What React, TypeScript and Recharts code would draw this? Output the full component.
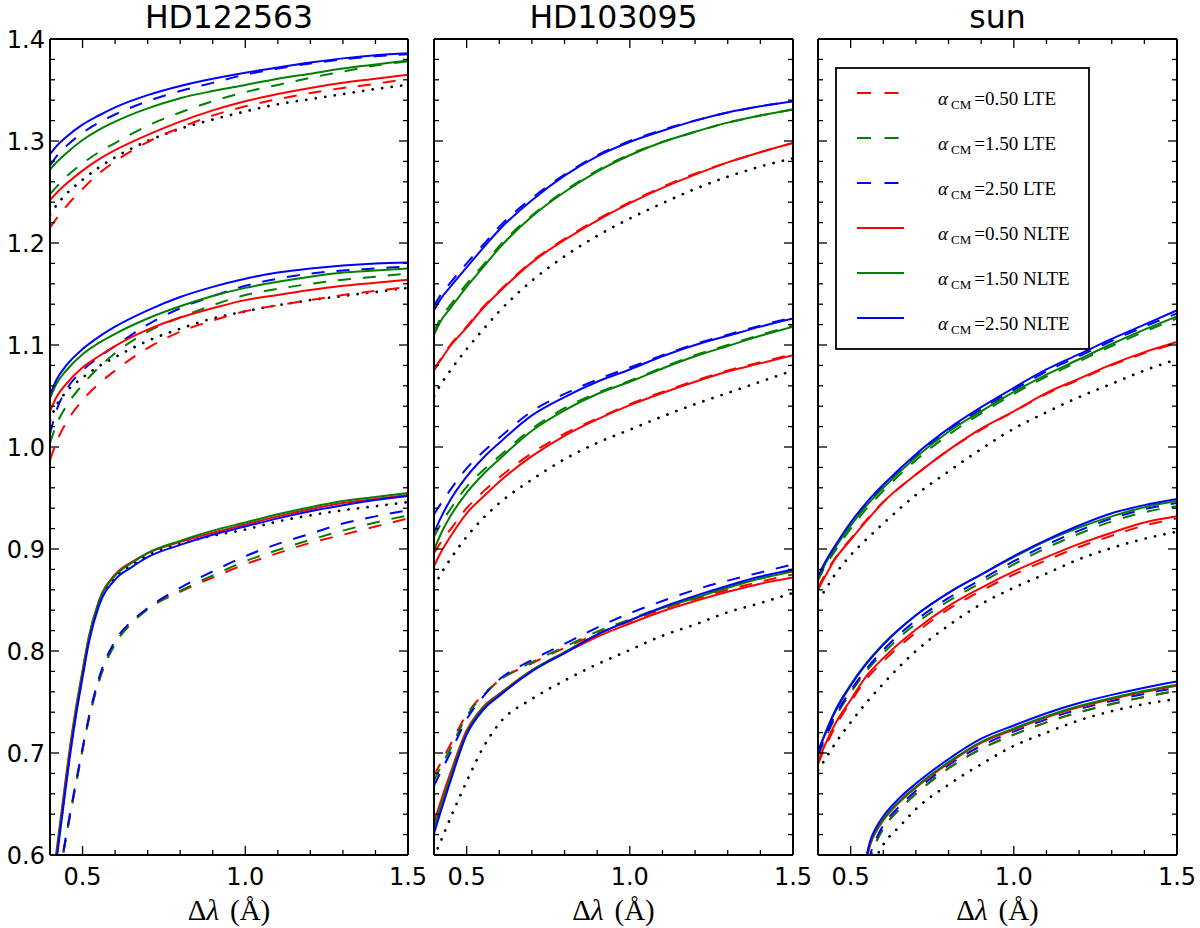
import React from 'react';
import { LineChart, Line, XAxis, YAxis } from 'recharts';

// ---------------- colours ----------------
const RED = '#ff0000';
const GREEN = '#008000';
const BLUE = '#0000ff';
const BLACK = '#000000';
const SERIES_COLORS = [RED, GREEN, BLUE]; // alpha_CM = 0.50, 1.50, 2.50

// ---------------- x grids (Delta lambda, Angstrom) ----------------
const xStd = [0.4, 0.42, 0.45, 0.5, 0.55, 0.6, 0.7, 0.8, 0.9, 1.0, 1.1, 1.2, 1.3, 1.4, 1.5];
const xHd122563Low = [0.4, 0.42, 0.44, 0.46, 0.48, 0.5, 0.52, 0.55, 0.6, 0.65, 0.7, 0.8, 0.9, 1.0, 1.1, 1.2, 1.3, 1.4, 1.5];
const xSunLow = [0.53, 0.55, 0.56, 0.58, 0.6, 0.65, 0.7, 0.8, 0.9, 1.0, 1.1, 1.2, 1.3, 1.4, 1.5];

// ---------------- HD122563 ----------------
// upper group
const hd122563UpLte050 = [1.215, 1.224, 1.236, 1.253, 1.268, 1.280, 1.299, 1.313, 1.325, 1.334, 1.341, 1.347, 1.352, 1.356, 1.361];
const hd122563UpLte150 = [1.248, 1.255, 1.265, 1.278, 1.289, 1.298, 1.315, 1.328, 1.339, 1.348, 1.355, 1.362, 1.368, 1.374, 1.378];
const hd122563UpLte250 = [1.276, 1.285, 1.295, 1.308, 1.318, 1.326, 1.339, 1.349, 1.357, 1.365, 1.371, 1.376, 1.380, 1.383, 1.385];
const hd122563UpNlte050 = [1.242, 1.249, 1.258, 1.271, 1.282, 1.291, 1.306, 1.319, 1.330, 1.339, 1.346, 1.352, 1.357, 1.361, 1.365];
const hd122563UpNlte150 = [1.272, 1.279, 1.288, 1.301, 1.311, 1.319, 1.332, 1.342, 1.349, 1.355, 1.361, 1.366, 1.371, 1.375, 1.379];
const hd122563UpNlte250 = [1.287, 1.295, 1.304, 1.316, 1.325, 1.333, 1.345, 1.354, 1.361, 1.367, 1.372, 1.377, 1.381, 1.384, 1.386];
const hd122563UpObs = [1.228, 1.237, 1.248, 1.262, 1.274, 1.284, 1.300, 1.312, 1.321, 1.329, 1.336, 1.341, 1.346, 1.351, 1.355];
// middle group
const hd122563MidLte050 = [0.987, 1.005, 1.024, 1.046, 1.062, 1.075, 1.097, 1.113, 1.124, 1.133, 1.139, 1.144, 1.149, 1.153, 1.157];
const hd122563MidLte150 = [1.004, 1.022, 1.040, 1.061, 1.078, 1.092, 1.113, 1.127, 1.139, 1.149, 1.155, 1.160, 1.164, 1.167, 1.170];
const hd122563MidLte250 = [1.013, 1.036, 1.056, 1.075, 1.088, 1.099, 1.120, 1.136, 1.148, 1.158, 1.165, 1.170, 1.173, 1.175, 1.177];
const hd122563MidNlte050 = [1.035, 1.049, 1.062, 1.078, 1.089, 1.099, 1.115, 1.127, 1.136, 1.144, 1.149, 1.154, 1.158, 1.161, 1.164];
const hd122563MidNlte150 = [1.048, 1.062, 1.075, 1.091, 1.102, 1.111, 1.126, 1.138, 1.148, 1.156, 1.162, 1.167, 1.171, 1.173, 1.175];
const hd122563MidNlte250 = [1.051, 1.066, 1.080, 1.096, 1.108, 1.118, 1.134, 1.147, 1.157, 1.165, 1.171, 1.175, 1.178, 1.180, 1.181];
const hd122563MidObs = [1.026, 1.041, 1.054, 1.068, 1.079, 1.088, 1.104, 1.116, 1.126, 1.133, 1.139, 1.144, 1.148, 1.152, 1.156];
// lower group (own x grid)
const hd122563LowLte050 = [0.530, 0.565, 0.600, 0.636, 0.670, 0.703, 0.734, 0.770, 0.807, 0.827, 0.841, 0.858, 0.872, 0.885, 0.896, 0.906, 0.914, 0.922, 0.930];
const hd122563LowLte150 = [0.530, 0.565, 0.600, 0.636, 0.670, 0.703, 0.734, 0.770, 0.807, 0.827, 0.841, 0.859, 0.874, 0.888, 0.899, 0.909, 0.918, 0.926, 0.933];
const hd122563LowLte250 = [0.532, 0.567, 0.602, 0.638, 0.672, 0.705, 0.736, 0.773, 0.810, 0.829, 0.842, 0.862, 0.878, 0.893, 0.905, 0.915, 0.925, 0.932, 0.938];
const hd122563LowNlte050 = [0.553, 0.604, 0.654, 0.703, 0.745, 0.781, 0.815, 0.849, 0.875, 0.887, 0.896, 0.907, 0.916, 0.924, 0.932, 0.939, 0.945, 0.949, 0.953];
const hd122563LowNlte150 = [0.550, 0.600, 0.650, 0.699, 0.742, 0.779, 0.814, 0.848, 0.874, 0.886, 0.896, 0.908, 0.918, 0.926, 0.934, 0.941, 0.947, 0.951, 0.955];
const hd122563LowNlte250 = [0.545, 0.595, 0.645, 0.694, 0.737, 0.774, 0.809, 0.844, 0.870, 0.882, 0.892, 0.904, 0.914, 0.922, 0.930, 0.937, 0.943, 0.948, 0.952];
const hd122563LowObs = [0.548, 0.598, 0.648, 0.697, 0.740, 0.777, 0.812, 0.846, 0.872, 0.884, 0.894, 0.905, 0.913, 0.919, 0.927, 0.933, 0.938, 0.942, 0.946];

// ---------------- HD103095 ----------------
const hd103095UpLte050 = [1.076, 1.086, 1.100, 1.118, 1.137, 1.153, 1.182, 1.204, 1.223, 1.240, 1.255, 1.268, 1.279, 1.289, 1.298];
const hd103095UpLte150 = [1.113, 1.126, 1.139, 1.160, 1.178, 1.197, 1.227, 1.251, 1.271, 1.287, 1.299, 1.309, 1.318, 1.325, 1.331];
const hd103095UpLte250 = [1.138, 1.149, 1.161, 1.180, 1.198, 1.216, 1.244, 1.267, 1.286, 1.300, 1.311, 1.320, 1.328, 1.334, 1.339];
const hd103095UpNlte050 = [1.075, 1.085, 1.099, 1.117, 1.136, 1.152, 1.181, 1.203, 1.222, 1.239, 1.254, 1.267, 1.279, 1.289, 1.298];
const hd103095UpNlte150 = [1.110, 1.123, 1.136, 1.157, 1.176, 1.195, 1.226, 1.250, 1.270, 1.286, 1.299, 1.309, 1.318, 1.325, 1.331];
const hd103095UpNlte250 = [1.134, 1.145, 1.157, 1.176, 1.195, 1.213, 1.242, 1.266, 1.285, 1.299, 1.310, 1.320, 1.328, 1.334, 1.339];
const hd103095UpObs = [1.050, 1.061, 1.075, 1.096, 1.115, 1.133, 1.163, 1.187, 1.207, 1.224, 1.239, 1.253, 1.265, 1.275, 1.283];

const hd103095MidLte050 = [0.896, 0.906, 0.919, 0.940, 0.956, 0.970, 0.994, 1.013, 1.028, 1.042, 1.054, 1.065, 1.075, 1.083, 1.091];
const hd103095MidLte150 = [0.912, 0.924, 0.939, 0.961, 0.977, 0.991, 1.018, 1.038, 1.053, 1.065, 1.078, 1.090, 1.100, 1.110, 1.119];
const hd103095MidLte250 = [0.934, 0.944, 0.958, 0.979, 0.995, 1.009, 1.035, 1.052, 1.066, 1.078, 1.090, 1.101, 1.110, 1.119, 1.127];
const hd103095MidNlte050 = [0.883, 0.896, 0.912, 0.935, 0.951, 0.966, 0.991, 1.011, 1.027, 1.041, 1.053, 1.064, 1.074, 1.082, 1.090];
const hd103095MidNlte150 = [0.899, 0.914, 0.932, 0.955, 0.973, 0.988, 1.016, 1.036, 1.052, 1.064, 1.077, 1.089, 1.099, 1.109, 1.118];
const hd103095MidNlte250 = [0.916, 0.930, 0.948, 0.971, 0.989, 1.004, 1.031, 1.049, 1.064, 1.076, 1.089, 1.100, 1.109, 1.118, 1.126];
const hd103095MidObs = [0.863, 0.875, 0.890, 0.912, 0.930, 0.945, 0.968, 0.988, 1.004, 1.017, 1.030, 1.042, 1.053, 1.064, 1.075];

const hd103095LowLte050 = [0.678, 0.690, 0.708, 0.738, 0.757, 0.771, 0.788, 0.803, 0.817, 0.829, 0.841, 0.851, 0.860, 0.868, 0.875];
const hd103095LowLte150 = [0.673, 0.686, 0.704, 0.736, 0.756, 0.771, 0.789, 0.804, 0.819, 0.831, 0.843, 0.853, 0.863, 0.871, 0.879];
const hd103095LowLte250 = [0.668, 0.681, 0.700, 0.733, 0.755, 0.772, 0.791, 0.807, 0.823, 0.837, 0.849, 0.860, 0.869, 0.877, 0.885];
const hd103095LowNlte050 = [0.632, 0.652, 0.680, 0.722, 0.745, 0.758, 0.781, 0.798, 0.814, 0.827, 0.839, 0.849, 0.858, 0.866, 0.872];
const hd103095LowNlte150 = [0.627, 0.647, 0.676, 0.720, 0.744, 0.757, 0.781, 0.799, 0.816, 0.830, 0.842, 0.852, 0.862, 0.871, 0.878];
const hd103095LowNlte250 = [0.621, 0.642, 0.672, 0.718, 0.742, 0.756, 0.780, 0.798, 0.816, 0.830, 0.843, 0.854, 0.864, 0.873, 0.880];
const hd103095LowObs = [0.598, 0.613, 0.636, 0.672, 0.705, 0.729, 0.753, 0.771, 0.787, 0.801, 0.815, 0.826, 0.838, 0.847, 0.857];

// ---------------- sun ----------------
const sunUpLte050 = [0.862, 0.874, 0.890, 0.910, 0.929, 0.946, 0.973, 0.997, 1.017, 1.035, 1.052, 1.066, 1.080, 1.092, 1.102];
const sunUpLte150 = [0.869, 0.882, 0.897, 0.920, 0.940, 0.957, 0.987, 1.012, 1.033, 1.052, 1.069, 1.084, 1.099, 1.113, 1.126];
const sunUpLte250 = [0.871, 0.884, 0.900, 0.924, 0.944, 0.961, 0.991, 1.016, 1.037, 1.056, 1.074, 1.089, 1.104, 1.118, 1.131];
const sunUpNlte050 = [0.860, 0.872, 0.889, 0.909, 0.928, 0.946, 0.973, 0.997, 1.018, 1.035, 1.053, 1.067, 1.081, 1.093, 1.103];
const sunUpNlte150 = [0.871, 0.884, 0.900, 0.923, 0.943, 0.960, 0.990, 1.015, 1.035, 1.054, 1.071, 1.086, 1.101, 1.115, 1.128];
const sunUpNlte250 = [0.873, 0.886, 0.902, 0.926, 0.946, 0.963, 0.993, 1.018, 1.039, 1.058, 1.076, 1.091, 1.106, 1.120, 1.134];
const sunUpObs = [0.850, 0.859, 0.874, 0.894, 0.910, 0.925, 0.953, 0.976, 0.998, 1.018, 1.034, 1.049, 1.062, 1.075, 1.086];

const sunMidLte050 = [0.689, 0.704, 0.724, 0.750, 0.773, 0.790, 0.818, 0.841, 0.859, 0.875, 0.889, 0.902, 0.913, 0.923, 0.930];
const sunMidLte150 = [0.697, 0.712, 0.733, 0.759, 0.781, 0.798, 0.827, 0.849, 0.867, 0.885, 0.901, 0.915, 0.927, 0.936, 0.942];
const sunMidLte250 = [0.699, 0.714, 0.735, 0.761, 0.783, 0.801, 0.830, 0.852, 0.870, 0.888, 0.904, 0.918, 0.930, 0.939, 0.945];
const sunMidNlte050 = [0.691, 0.707, 0.727, 0.752, 0.776, 0.793, 0.821, 0.844, 0.862, 0.878, 0.892, 0.905, 0.916, 0.926, 0.932];
const sunMidNlte150 = [0.702, 0.718, 0.740, 0.767, 0.789, 0.807, 0.835, 0.857, 0.875, 0.892, 0.908, 0.921, 0.932, 0.941, 0.947];
const sunMidNlte250 = [0.701, 0.717, 0.739, 0.766, 0.788, 0.806, 0.835, 0.857, 0.875, 0.893, 0.909, 0.923, 0.935, 0.943, 0.949];
const sunMidObs = [0.683, 0.693, 0.708, 0.730, 0.750, 0.768, 0.800, 0.825, 0.846, 0.862, 0.876, 0.890, 0.901, 0.910, 0.917];

const sunLowLte050 = [0.542, 0.582, 0.597, 0.614, 0.626, 0.645, 0.660, 0.685, 0.704, 0.718, 0.730, 0.740, 0.748, 0.755, 0.761];
const sunLowLte150 = [0.542, 0.582, 0.597, 0.614, 0.626, 0.645, 0.660, 0.685, 0.704, 0.718, 0.730, 0.740, 0.748, 0.755, 0.761];
const sunLowLte250 = [0.545, 0.585, 0.600, 0.617, 0.629, 0.648, 0.663, 0.688, 0.707, 0.721, 0.733, 0.743, 0.751, 0.758, 0.764];
const sunLowNlte050 = [0.556, 0.597, 0.610, 0.624, 0.634, 0.652, 0.666, 0.690, 0.710, 0.723, 0.735, 0.745, 0.753, 0.760, 0.766];
const sunLowNlte150 = [0.557, 0.598, 0.611, 0.625, 0.635, 0.653, 0.667, 0.691, 0.711, 0.724, 0.736, 0.746, 0.754, 0.761, 0.767];
const sunLowNlte250 = [0.560, 0.601, 0.614, 0.628, 0.638, 0.656, 0.670, 0.694, 0.714, 0.727, 0.739, 0.749, 0.757, 0.764, 0.770];
const sunLowObs = [0.520, 0.560, 0.575, 0.598, 0.610, 0.628, 0.645, 0.669, 0.689, 0.707, 0.720, 0.732, 0.741, 0.748, 0.753];

// ---------------- axes / labels ----------------
const X_DOMAIN: [number, number] = [0.4, 1.5];
const Y_DOMAIN: [number, number] = [0.6, 1.4];
const X_TICKS = [0.5, 0.6, 0.7, 0.8, 0.9, 1.0, 1.1, 1.2, 1.3, 1.4, 1.5];
const X_MAJOR = [0.5, 1.0, 1.5];
const Y_MAJOR = [0.6, 0.7, 0.8, 0.9, 1.0, 1.1, 1.2, 1.3, 1.4];
const Y_TICKS = Array.from({ length: 41 }, (_, i) => Math.round((0.6 + i * 0.02) * 100) / 100);
const PANEL_TITLES = ['HD122563', 'HD103095', 'sun'];

const LEGEND_ALPHAS = ['0.50', '1.50', '2.50', '0.50', '1.50', '2.50'];
const LEGEND_KINDS = ['LTE', 'LTE', 'LTE', 'NLTE', 'NLTE', 'NLTE'];
const LEGEND_COLORS = [RED, GREEN, BLUE, RED, GREEN, BLUE];
const LEGEND_DASHED = [true, true, true, false, false, false];

type Group = { xs: number[]; lte: number[][]; nlte: number[][]; obs: number[] };

const hd122563Groups: Group[] = [
  { xs: xStd, lte: [hd122563UpLte050, hd122563UpLte150, hd122563UpLte250], nlte: [hd122563UpNlte050, hd122563UpNlte150, hd122563UpNlte250], obs: hd122563UpObs },
  { xs: xStd, lte: [hd122563MidLte050, hd122563MidLte150, hd122563MidLte250], nlte: [hd122563MidNlte050, hd122563MidNlte150, hd122563MidNlte250], obs: hd122563MidObs },
  { xs: xHd122563Low, lte: [hd122563LowLte050, hd122563LowLte150, hd122563LowLte250], nlte: [hd122563LowNlte050, hd122563LowNlte150, hd122563LowNlte250], obs: hd122563LowObs },
];
const hd103095Groups: Group[] = [
  { xs: xStd, lte: [hd103095UpLte050, hd103095UpLte150, hd103095UpLte250], nlte: [hd103095UpNlte050, hd103095UpNlte150, hd103095UpNlte250], obs: hd103095UpObs },
  { xs: xStd, lte: [hd103095MidLte050, hd103095MidLte150, hd103095MidLte250], nlte: [hd103095MidNlte050, hd103095MidNlte150, hd103095MidNlte250], obs: hd103095MidObs },
  { xs: xStd, lte: [hd103095LowLte050, hd103095LowLte150, hd103095LowLte250], nlte: [hd103095LowNlte050, hd103095LowNlte150, hd103095LowNlte250], obs: hd103095LowObs },
];
const sunGroups: Group[] = [
  { xs: xStd, lte: [sunUpLte050, sunUpLte150, sunUpLte250], nlte: [sunUpNlte050, sunUpNlte150, sunUpNlte250], obs: sunUpObs },
  { xs: xStd, lte: [sunMidLte050, sunMidLte150, sunMidLte250], nlte: [sunMidNlte050, sunMidNlte150, sunMidNlte250], obs: sunMidObs },
  { xs: xSunLow, lte: [sunLowLte050, sunLowLte150, sunLowLte250], nlte: [sunLowNlte050, sunLowNlte150, sunLowNlte250], obs: sunLowObs },
];

// ---------------- layout ----------------
const CHART_H = 928;
const PLOT_TOP = 39;
const PLOT_BOTTOM = 855;
const AXIS_PX = 1; // each axis band is 1px (a 0px band is not drawn)
const SANS = '"DejaVu Sans", Verdana, sans-serif';
const SERIF = '"Liberation Serif", "Times New Roman", serif';
const TICK_W = 1.3;
const MAJ_LEN = 9;
const MIN_LEN = 5;

const isMajor = (v: number, majors: number[]) => majors.some((m) => Math.abs(m - v) < 1e-6);
const pts = (xs: number[], ys: number[]) => xs.map((x, i) => ({ x, y: ys[i] }));

type PanelProps = {
  left: number;
  width: number;
  plotL: number;
  plotR: number;
  groups: Group[];
  yLabels: boolean;
};

function Panel({ left, width, plotL, plotR, groups, yLabels }: PanelProps) {
  const series: { key: string; data: { x: number; y: number }[]; color: string; kind: 'obs' | 'lte' | 'nlte' }[] = [];
  groups.forEach((g, gi) => {
    series.push({ key: `obs-${gi}`, data: pts(g.xs, g.obs), color: BLACK, kind: 'obs' });
    g.lte.forEach((ys, k) => series.push({ key: `lte-${gi}-${k}`, data: pts(g.xs, ys), color: SERIES_COLORS[k], kind: 'lte' }));
    g.nlte.forEach((ys, k) => series.push({ key: `nlte-${gi}-${k}`, data: pts(g.xs, ys), color: SERIES_COLORS[k], kind: 'nlte' }));
  });

  const bottomTick = (p: any) => {
    const v = p.payload.value;
    const maj = isMajor(v, X_MAJOR);
    return (
      <g>
        <line x1={p.x} x2={p.x} y1={PLOT_BOTTOM} y2={PLOT_BOTTOM - (maj ? MAJ_LEN : MIN_LEN)} stroke={BLACK} strokeWidth={TICK_W} />
        {maj && (
          <text x={p.x} y={885} textAnchor="middle" fontSize={24} fontFamily={SANS} fill={BLACK}>
            {v.toFixed(1)}
          </text>
        )}
      </g>
    );
  };
  const topTick = (p: any) => {
    const v = p.payload.value;
    const maj = isMajor(v, X_MAJOR);
    return <line x1={p.x} x2={p.x} y1={PLOT_TOP} y2={PLOT_TOP + (maj ? MAJ_LEN : MIN_LEN)} stroke={BLACK} strokeWidth={TICK_W} />;
  };
  const leftTick = (p: any) => {
    const v = p.payload.value;
    const maj = isMajor(v, Y_MAJOR);
    return (
      <g>
        <line x1={plotL} x2={plotL + (maj ? MAJ_LEN : MIN_LEN)} y1={p.y} y2={p.y} stroke={BLACK} strokeWidth={TICK_W} />
        {yLabels && maj && (
          <text x={plotL - 5} y={p.y + 9} textAnchor="end" fontSize={24} fontFamily={SANS} fill={BLACK}>
            {v.toFixed(1)}
          </text>
        )}
      </g>
    );
  };
  const rightTick = (p: any) => {
    const v = p.payload.value;
    const maj = isMajor(v, Y_MAJOR);
    return <line x1={plotR} x2={plotR - (maj ? MAJ_LEN : MIN_LEN)} y1={p.y} y2={p.y} stroke={BLACK} strokeWidth={TICK_W} />;
  };

  const frame = { stroke: BLACK, strokeWidth: 2 };
  const margin = {
    top: PLOT_TOP - AXIS_PX,
    bottom: CHART_H - PLOT_BOTTOM - AXIS_PX,
    left: plotL - AXIS_PX,
    right: width - plotR - AXIS_PX,
  };

  return (
    <div style={{ position: 'absolute', left, top: 0, width, height: CHART_H }}>
      <LineChart width={width} height={CHART_H} margin={margin}>
        <XAxis xAxisId="b" orientation="bottom" type="number" dataKey="x" domain={X_DOMAIN} allowDataOverflow ticks={X_TICKS} interval={0} height={AXIS_PX} tickLine={false} tickSize={0} tickMargin={0} axisLine={frame} tick={bottomTick} />
        <XAxis xAxisId="t" orientation="top" type="number" dataKey="x" domain={X_DOMAIN} allowDataOverflow ticks={X_TICKS} interval={0} height={AXIS_PX} tickLine={false} tickSize={0} tickMargin={0} axisLine={frame} tick={topTick} />
        <YAxis yAxisId="l" orientation="left" type="number" domain={Y_DOMAIN} allowDataOverflow ticks={Y_TICKS} interval={0} width={AXIS_PX} tickLine={false} tickSize={0} tickMargin={0} axisLine={frame} tick={leftTick} />
        <YAxis yAxisId="r" orientation="right" type="number" domain={Y_DOMAIN} allowDataOverflow ticks={Y_TICKS} interval={0} width={AXIS_PX} tickLine={false} tickSize={0} tickMargin={0} axisLine={frame} tick={rightTick} />
        {series.map((s) => (
          <Line
            key={s.key}
            xAxisId="b"
            yAxisId="l"
            data={s.data}
            dataKey="y"
            type="monotone"
            dot={false}
            activeDot={false}
            isAnimationActive={false}
            stroke={s.color}
            strokeWidth={s.kind === 'obs' ? 2.7 : 2}
            strokeDasharray={s.kind === 'lte' ? '13 12' : s.kind === 'obs' ? '0.1 9.5' : undefined}
            strokeLinecap={s.kind === 'obs' ? 'round' : 'butt'}
          />
        ))}
      </LineChart>
    </div>
  );
}

const PANEL_CENTERS = [229, 613.5, 997.5];

export default function App() {
  return (
    <div style={{ position: 'absolute', left: 0, top: 0, width: 1200, height: 928, background: '#ffffff', overflow: 'hidden' }}>
      <Panel left={0} width={430} plotL={50} plotR={408} groups={hd122563Groups} yLabels />
      <Panel left={412} width={400} plotL={22} plotR={381} groups={hd103095Groups} yLabels={false} />
      <Panel left={798} width={402} plotL={20} plotR={379} groups={sunGroups} yLabels={false} />
      <svg width={1200} height={928} style={{ position: 'absolute', left: 0, top: 0, pointerEvents: 'none' }}>
        {PANEL_TITLES.map((t, i) => (
          <text key={t} x={PANEL_CENTERS[i]} y={28} textAnchor="middle" fontSize={31.5} fontFamily={SANS} fill={BLACK}>
            {t}
          </text>
        ))}
        {PANEL_CENTERS.map((cx, i) => (
          <text key={`xl${i}`} x={cx} y={920} textAnchor="middle" fontSize={29} fontFamily={SERIF} fill={BLACK}>
            Δ<tspan fontStyle="italic">λ</tspan>
            <tspan dx={11}>(Å)</tspan>
          </text>
        ))}
        <rect x={836} y={68} width={253} height={281} fill="#ffffff" stroke={BLACK} strokeWidth={1.8} />
        {LEGEND_ALPHAS.map((a, i) => {
          const y = 93 + i * 45;
          return (
            <g key={`lg${i}`}>
              <line x1={857} x2={904} y1={y} y2={y} stroke={LEGEND_COLORS[i]} strokeWidth={2} strokeDasharray={LEGEND_DASHED[i] ? '14 13.5' : undefined} />
              <text x={938} y={y + 12} fontSize={19} fontFamily={SERIF} fill={BLACK}>
                <tspan fontStyle="italic">α</tspan>
                <tspan fontSize={13} dx={3} dy={4}>CM</tspan>
                <tspan dx={3} dy={-4}>{`=${a} ${LEGEND_KINDS[i]}`}</tspan>
              </text>
            </g>
          );
        })}
      </svg>
    </div>
  );
}
